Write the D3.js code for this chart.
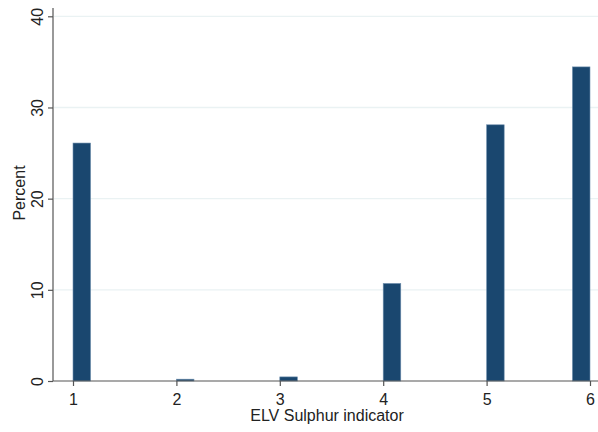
<!DOCTYPE html>
<html>
<head>
<meta charset="utf-8">
<script src="https://cdn.jsdelivr.net/npm/d3@7"></script>
<style>
  html, body { margin: 0; padding: 0; background: #fff; }
  svg { display: block; font-family: "Liberation Sans", Arial, sans-serif; }
</style>
</head>
<body>
<svg id="chart" width="598" height="432"></svg>
<script>
// Histogram of the ELV Sulphur indicator (percent of observations per value)
const categories = [1, 2, 3, 4, 5, 6];
const percents = [26.1, 0.2, 0.45, 10.7, 28.1, 34.45];
const yTicks = [0, 10, 20, 30, 40];
const binWidth = 0.17;
const xTitle = "ELV Sulphur indicator";
const yTitle = "Percent";

const svg = d3.select("#chart");
const W = 598, H = 432;
const plotLeft = 53, plotTop = 16.3, plotBottom = 381;
const fontSize = 16;

const x = d3.scaleLinear().domain([1, 6]).range([73, 590]);
const y = d3.scaleLinear().domain([0, 40]).range([plotBottom, plotTop]);

// horizontal gridlines
svg.append("g")
  .selectAll("line")
  .data(yTicks.filter(d => d > 0))
  .join("line")
  .attr("x1", plotLeft + 1).attr("x2", W)
  .attr("y1", d => y(d)).attr("y2", d => y(d))
  .attr("stroke", "#eaf2f3").attr("stroke-width", 1.3);

// bars: each bin starts at its value, except the last which ends at the upper bound
const bars = categories.map((c, i) => {
  const x0 = c === 6 ? c - binWidth : c;
  return { x0, x1: x0 + binWidth, v: percents[i] };
});
svg.append("g")
  .selectAll("rect")
  .data(bars)
  .join("rect")
  .attr("x", d => x(d.x0))
  .attr("width", d => x(d.x1) - x(d.x0))
  .attr("y", d => y(d.v))
  .attr("height", d => y(0) - y(d.v))
  .attr("fill", "#1a476f")
  .attr("stroke", "#6f8fae")
  .attr("stroke-width", 0.6);

// y axis
const yAxis = d3.axisLeft(y).tickValues(yTicks).tickFormat(d3.format("d")).tickSize(5);
const gy = svg.append("g").attr("transform", `translate(${plotLeft},0)`).call(yAxis);
gy.select(".domain").attr("d", `M0,8V${plotBottom}`).attr("stroke", "#555").attr("stroke-width", 1.2);
gy.selectAll(".tick line").attr("stroke", "#555").attr("stroke-width", 1.2);
gy.selectAll(".tick text")
  .attr("font-size", fontSize).attr("fill", "#222")
  .attr("transform", "rotate(-90)")
  .attr("x", 0).attr("y", -10)
  .attr("dy", "0")
  .attr("text-anchor", "middle");

// x axis
const xAxis = d3.axisBottom(x).tickValues(categories).tickFormat(d3.format("d")).tickSize(5).tickPadding(8);
const gx = svg.append("g").attr("transform", `translate(0,${plotBottom})`).call(xAxis);
gx.select(".domain").attr("d", `M${plotLeft},0H${W}`).attr("stroke", "#555").attr("stroke-width", 1.2);
gx.selectAll(".tick line").attr("stroke", "#555").attr("stroke-width", 1.2);
gx.selectAll(".tick text").attr("font-size", fontSize).attr("fill", "#222");

// axis titles
svg.append("text")
  .attr("x", 327).attr("y", 420.5)
  .attr("text-anchor", "middle")
  .attr("font-size", fontSize).attr("fill", "#222")
  .text(xTitle);
svg.append("text")
  .attr("transform", "translate(25,193) rotate(-90)")
  .attr("text-anchor", "middle")
  .attr("font-size", fontSize).attr("fill", "#222")
  .text(yTitle);
</script>
</body>
</html>
